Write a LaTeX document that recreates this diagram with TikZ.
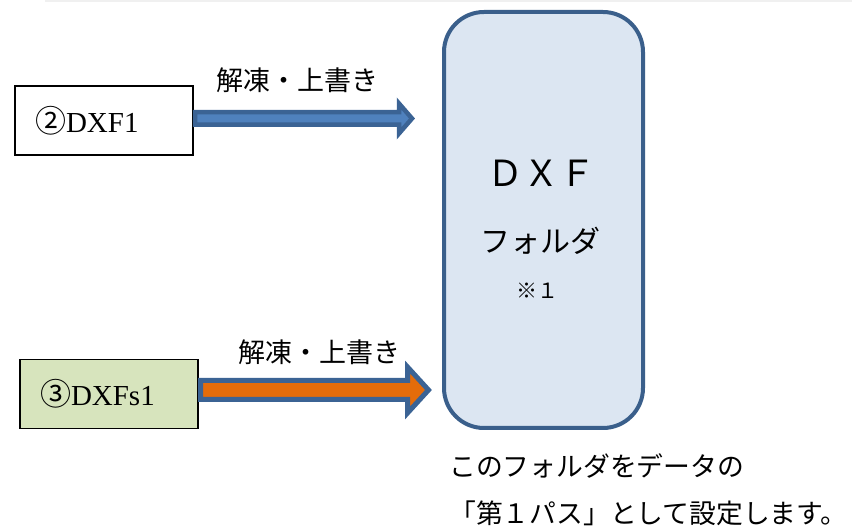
\documentclass[tikz,border=0pt]{standalone}
\usepackage{fontspec}
\setmainfont{Liberation Serif}
\newfontfamily\jp{Noto Sans CJK JP}
\usetikzlibrary{calc}
\definecolor{darkblue}{HTML}{3A5F8B}
\definecolor{arrowfill}{HTML}{4F81BD}
\definecolor{arrowline}{HTML}{3B6394}
\definecolor{folderfill}{HTML}{DCE6F2}
\definecolor{boxgreen}{HTML}{D7E4BD}
\definecolor{orangefill}{HTML}{E46C0A}
\newcommand{\circnum}[1]{{\jp\fontsize{31}{30}\selectfont #1}}
\tikzset{
  srcbox/.style={draw=black, line width=1.1pt, minimum width=178pt, minimum height=69pt,
    text width=138pt, inner xsep=20pt, align=left, font=\fontsize{29}{30}\selectfont},
  folder/.style={draw=darkblue, fill=folderfill, line width=4pt, rounded corners=40pt,
    minimum width=199pt, minimum height=416pt, inner sep=0pt},
  jptext/.style={font=\jp\fontsize{27}{30}\selectfont, inner sep=0pt},
  bluearrow/.style={draw=arrowline, fill=arrowfill, line width=4.5pt, line join=miter},
  orangearrow/.style={draw=arrowline, fill=orangefill, line width=5pt, line join=miter},
}
\begin{document}
\begin{tikzpicture}[x=1pt,y=-1pt]
\useasboundingbox (0,0) rectangle (852,526);
\draw[gray!12, line width=2pt] (45,1) -- (852,1);

\node[srcbox, fill=white] (b1) at (104,120.5) {\circnum{②}DXF1};
\node[srcbox, fill=boxgreen] (b2) at (109,394) {\circnum{③}DXFs1};

\node[folder] (f) at (543.5,220) {};
\node[font=\jp\fontsize{36}{38}\selectfont, inner sep=0pt] (t1) at (541,173) {ＤＸＦ};
\node[font=\jp\fontsize{30}{32}\selectfont, inner sep=0pt] (t2) at (540,241) {フォルダ};
\node[font=\jp\fontsize{21}{24}\selectfont, inner sep=0pt] (t3) at (537,291) {※１};

% arrow 1
\coordinate (a1s) at (195,118.5);
\coordinate (a1h) at (399,118.5);
\coordinate (a1t) at (412,118.5);
\draw[bluearrow] ($(a1s)+(0,-6.25)$) -- ($(a1h)+(0,-6.25)$) -- ($(a1h)+(0,-15)$) -- (a1t)
  -- ($(a1h)+(0,15)$) -- ($(a1h)+(0,6.25)$) -- ($(a1s)+(0,6.25)$) -- cycle;
\node[jptext] (l1) at (297.5,80) {解凍・上書き};

% arrow 2
\coordinate (a2s) at (200.5,390);
\coordinate (a2h) at (407.5,390);
\coordinate (a2t) at (428.5,390);
\draw[orangearrow] ($(a2s)+(0,-9.5)$) -- ($(a2h)+(0,-9.5)$) -- ($(a2h)+(0,-23)$) -- (a2t)
  -- ($(a2h)+(0,23)$) -- ($(a2h)+(0,9.5)$) -- ($(a2s)+(0,9.5)$) -- cycle;
\node[jptext] (l2) at (319.5,352) {解凍・上書き};

\node[font=\jp\fontsize{26.8}{47}\selectfont, inner sep=0pt, anchor=west, align=left] (note) at (449,490)
  {このフォルダをデータの\\「第１パス」として設定します。};
\end{tikzpicture}
\end{document}
